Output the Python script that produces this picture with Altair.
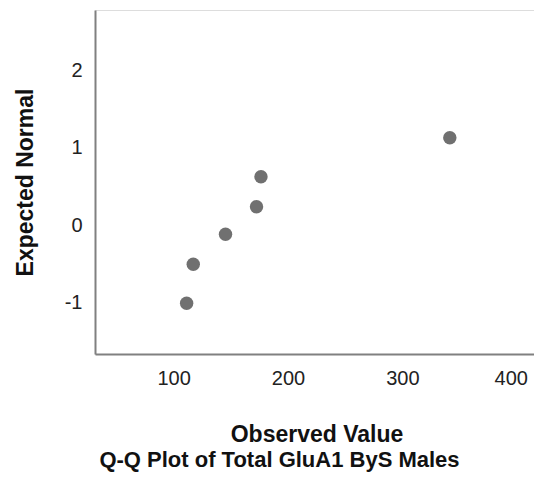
import altair as alt
import pandas as pd

observed = [111.4, 117.2, 145.4, 172.5, 176.4, 341.5]
expected = [-1.005, -0.502, -0.115, 0.241, 0.628, 1.131]
x_ticks = [100, 200, 300, 400]
y_ticks = [-1, 0, 1, 2]

df = pd.DataFrame({"observed": observed, "expected": expected})

FONT = "Liberation Sans"

chart = alt.Chart(df).mark_circle(size=180, color="#707070", opacity=1).encode(
    x=alt.X("observed:Q",
            scale=alt.Scale(domain=[31.3, 415.1], nice=False, zero=False),
            axis=alt.Axis(values=x_ticks, title="Observed Value", ticks=False, grid=False,
                          labelFontSize=20, labelFont=FONT, labelColor="#222",
                          labelPadding=14, labelFlush=False,
                          labelOffset={"condition": {"test": "datum.value == 400", "value": -6},
                                       "value": 0},
                          labelExpr="'' + datum.value",
                          titleFont=FONT, titleFontSize=23, titleFontWeight="bold",
                          titleColor="#111", titleBaseline="alphabetic", titleY=87,
                          titleX=221.5,
                          domainColor="#808080", domainWidth=2)),
    y=alt.Y("expected:Q",
            scale=alt.Scale(domain=[-1.659, 2.778], nice=False, zero=False),
            axis=alt.Axis(values=y_ticks, title="Expected Normal", ticks=False, grid=False,
                          labelFontSize=20, labelFont=FONT, labelColor="#222",
                          labelPadding=13, labelFlush=False,
                          labelExpr="'' + datum.value",
                          titleFont=FONT, titleFontSize=23, titleFontWeight="bold",
                          titleColor="#111", titleBaseline="alphabetic",
                          titleX=-63, titleY=172, titleAngle=-90,
                          domainColor="#808080", domainWidth=2)),
).properties(
    width=439,
    height=344,
    title=alt.TitleParams("Q-Q Plot of Total GluA1 ByS Males", orient="bottom",
                          anchor="middle", frame="group", dx=-35, offset=21,
                          baseline="alphabetic",
                          font=FONT, fontSize=22, fontWeight="bold", color="#111"),
    autosize=alt.AutoSizeParams(type="none"),
    padding={"left": 87, "top": 2, "right": 0, "bottom": 118},
).configure_view(stroke=None).configure(background="white")

chart.save("out.html", embed_options={"renderer": "svg", "actions": False})
